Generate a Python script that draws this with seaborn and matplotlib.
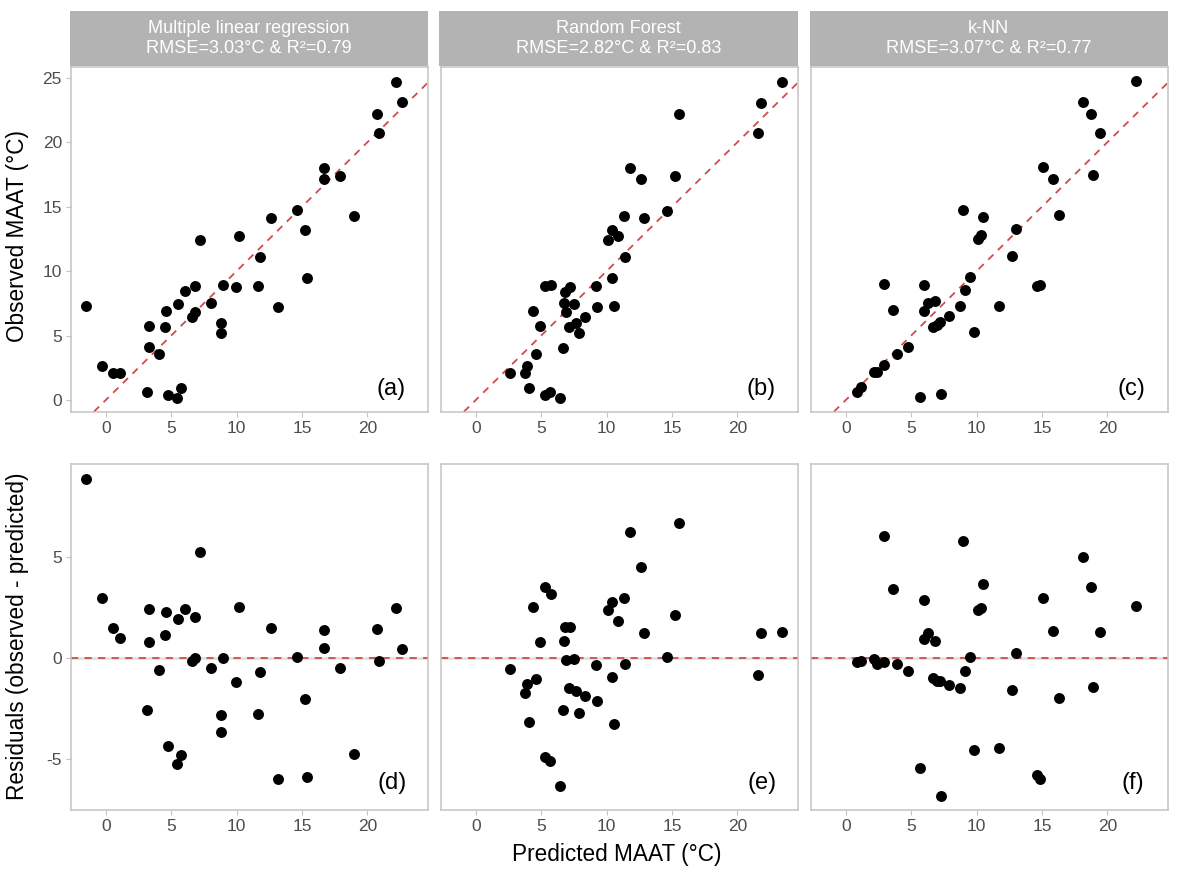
import numpy as np
import pandas as pd
import matplotlib
matplotlib.use("Agg")
import matplotlib.pyplot as plt
import seaborn as sns

# ---------------- data ----------------
models = ["Multiple linear regression", "Random Forest", "k-NN"]
strip_stats = ["RMSE=3.03°C & R²=0.79", "RMSE=2.82°C & R²=0.83", "RMSE=3.07°C & R²=0.77"]
top_letters = ["(a)", "(b)", "(c)"]
bottom_letters = ["(d)", "(e)", "(f)"]
x_ticks = [0, 5, 10, 15, 20]
obs_ticks = [0, 5, 10, 15, 20, 25]
resid_ticks = [-5, 0, 5]

mlr_pred = [-1.53, -0.31, 0.59, 1.12, 3.19, 3.30, 3.30, 4.11, 4.52, 4.63,
            4.73, 5.42, 5.75, 5.52, 6.03, 6.59, 6.85, 6.82, 7.21, 8.02,
            8.84, 8.84, 8.94, 9.97, 10.22, 11.63, 11.78, 12.60, 13.19, 14.64,
            15.23, 15.36, 16.64, 16.64, 17.89, 18.99, 20.75, 20.88, 22.21, 22.67]
mlr_obs = [7.29, 2.64, 2.07, 2.12, 0.62, 4.08, 5.74, 3.54, 5.64, 6.90,
           0.39, 0.16, 0.96, 7.45, 8.43, 6.46, 6.83, 8.84, 12.44, 7.55,
           6.00, 5.17, 8.95, 8.76, 12.72, 8.84, 11.09, 14.09, 7.21, 14.71,
           13.19, 9.49, 18.02, 17.11, 17.40, 14.27, 22.18, 20.71, 24.69, 23.09]

rf_pred = [2.63, 3.91, 3.78, 4.11, 4.57, 4.37, 4.93, 5.32, 5.70, 6.47,
           5.32, 5.75, 6.64, 6.72, 6.85, 7.21, 6.90, 7.51, 7.10, 7.64,
           7.90, 8.33, 9.17, 9.30, 10.07, 10.40, 10.86, 10.38, 10.55, 11.40,
           11.32, 11.78, 12.60, 12.83, 14.64, 15.26, 15.51, 21.54, 21.82, 23.38]
rf_obs = [2.07, 2.64, 2.07, 0.96, 3.54, 6.90, 5.71, 0.41, 0.62, 0.16,
          8.84, 8.91, 4.06, 7.55, 8.40, 8.76, 6.82, 7.47, 5.63, 5.99,
          5.17, 6.46, 8.84, 7.18, 12.43, 13.18, 12.71, 9.46, 7.29, 11.09,
          14.29, 18.01, 17.11, 14.08, 14.70, 17.39, 22.17, 20.70, 23.07, 24.68]

knn_pred = [0.84, 1.18, 2.17, 2.43, 2.89, 3.91, 4.75, 2.96, 3.58, 5.70,
            7.31, 6.01, 6.01, 6.31, 6.85, 6.67, 6.98, 7.23, 7.87, 8.77,
            9.12, 9.48, 8.97, 9.81, 10.09, 10.30, 10.50, 11.73, 12.70, 13.01,
            14.64, 14.85, 15.08, 15.82, 16.33, 18.12, 18.73, 18.89, 19.42, 22.16]
knn_obs = [0.65, 1.03, 2.14, 2.14, 2.71, 3.59, 4.13, 9.00, 6.98, 0.26,
           0.49, 8.89, 6.93, 7.55, 7.68, 5.69, 5.82, 6.07, 6.54, 7.31,
           8.50, 9.53, 14.73, 5.25, 12.48, 12.77, 14.16, 7.26, 11.14, 13.26,
           8.84, 8.89, 18.04, 17.13, 14.34, 23.13, 22.22, 17.44, 20.72, 24.73]

frames = []
for m, p, o in zip(models, [mlr_pred, rf_pred, knn_pred], [mlr_obs, rf_obs, knn_obs]):
    d = pd.DataFrame({"model": m, "pred": p, "obs": o})
    d["resid"] = d["obs"] - d["pred"]
    frames.append(d)
df = pd.concat(frames, ignore_index=True)

# ---------------- style ----------------
sns.set_theme(style="white")
plt.rcParams["font.family"] = ["Liberation Sans", "DejaVu Sans"]
plt.rcParams["axes.unicode_minus"] = False

W, H = 1179, 877
fig = plt.figure(figsize=(W / 100, H / 100), dpi=100)

border = "#c4c4c4"
tickcol = "#4d4d4d"
red = "#d04b4b"
strip_fill = "#b3b3b3"

lefts = [71, 441, 811]
pw = 356.7
top_row = (66.7, 411.7)
bot_row = (464.3, 810.0)
xlim = (-2.65, 24.6)
ylim_top = (-0.9, 25.85)
ylim_bot = (-7.51, 9.57)


def make_ax(left, top, bottom):
    return fig.add_axes([left / W, 1 - bottom / H, pw / W, (bottom - top) / H])


def style_ax(ax, show_y):
    for s in ax.spines.values():
        s.set_color(border)
        s.set_linewidth(1.1)
    ax.tick_params(axis="both", colors=border, labelcolor=tickcol, labelsize=12.5,
                   length=3.5, width=0.8, pad=3)
    ax.tick_params(axis="x", bottom=True)
    if show_y:
        ax.tick_params(axis="y", left=True)
    else:
        ax.tick_params(axis="y", left=False, labelleft=False)
    ax.set_xlabel("")
    ax.set_ylabel("")
    ax.grid(False)


for i, m in enumerate(models):
    sub = df[df["model"] == m]

    # top: observed vs predicted
    ax = make_ax(lefts[i], *top_row)
    ax.axline((0, 0), slope=1, color=red, lw=1.3, dashes=(4, 3.5), zorder=1)
    sns.scatterplot(data=sub, x="pred", y="obs", ax=ax, color="black", s=62,
                    linewidth=0, zorder=3, legend=False)
    ax.set_xlim(*xlim)
    ax.set_ylim(*ylim_top)
    ax.set_xticks(x_ticks)
    ax.set_yticks(obs_ticks)
    style_ax(ax, i == 0)
    ax.text(21.8, 0.85, top_letters[i], fontsize=17, ha="center", va="center", color="black")

    # strip
    sax = fig.add_axes([(lefts[i] - 1.5) / W, 1 - 66.0 / H, (pw + 1.5) / W, 55.0 / H])
    sax.set_facecolor(strip_fill)
    for s in sax.spines.values():
        s.set_visible(False)
    sax.set_xticks([])
    sax.set_yticks([])
    sax.text(0.5, 0.5, m + "\n" + strip_stats[i], color="white", fontsize=13.1,
             ha="center", va="center", linespacing=1.3, transform=sax.transAxes)

    # bottom: residuals
    bx = make_ax(lefts[i], *bot_row)
    bx.axhline(0, color="#e3e3e3", lw=2.2, zorder=0)
    bx.axhline(0, color=red, lw=1.3, dashes=(4, 3.5), zorder=1)
    sns.scatterplot(data=sub, x="pred", y="resid", ax=bx, color="black", s=62,
                    linewidth=0, zorder=3, legend=False)
    bx.set_xlim(*xlim)
    bx.set_ylim(*ylim_bot)
    bx.set_xticks(x_ticks)
    bx.set_yticks(resid_ticks)
    style_ax(bx, i == 0)
    bx.text(21.9, -6.2, bottom_letters[i], fontsize=17, ha="center", va="center", color="black")

fig.text(18 / W, 1 - 236 / H, "Observed MAAT (°C)", rotation=90, fontsize=16.3,
         ha="center", va="center", color="black")
fig.text(18 / W, 1 - 636 / H, "Residuals (observed - predicted)", rotation=90, fontsize=16.3,
         ha="center", va="center", color="black")
fig.text(617 / W, 1 - 855 / H, "Predicted MAAT (°C)", fontsize=16.3,
         ha="center", va="center", color="black")

fig.savefig("out.png", dpi=100, facecolor="white")
